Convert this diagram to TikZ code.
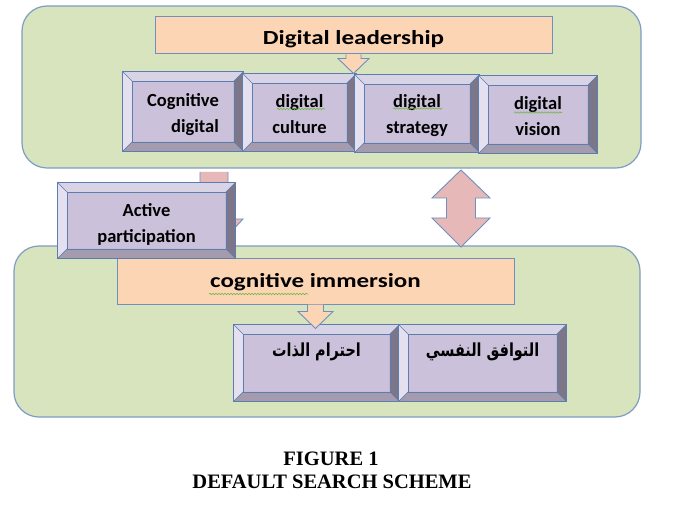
\documentclass[tikz,border=0pt]{standalone}
\usepackage{fontspec}
\usetikzlibrary{calc,decorations.pathmorphing}
\setmainfont{Carlito}
\newfontfamily\headfont[FakeStretch=1.25]{Carlito}
\newfontfamily\capfont{Liberation Serif}
\newfontfamily\arabicfont[Script=Arabic,FakeStretch=0.8]{DejaVu Sans}
\TeXXeTstate=1
\definecolor{grn}{HTML}{D7E4BD}
\definecolor{cbord}{HTML}{7F9DC4}
\definecolor{obord}{HTML}{6E8FBF}
\definecolor{bbord}{HTML}{5B7DB0}
\definecolor{org}{HTML}{FCD5B5}
\definecolor{pnk}{HTML}{E6B9B8}
\definecolor{face}{HTML}{CCC1DA}
\definecolor{bevT}{HTML}{D9D3E6}
\definecolor{bevL}{HTML}{E4E0EF}
\definecolor{bevR}{HTML}{7C7688}
\definecolor{bevB}{HTML}{A59BAE}
\definecolor{spell}{HTML}{6DB33F}
\tikzset{
  container/.style={draw=cbord, line width=1.2pt, fill=grn, rounded corners=25pt, inner sep=0pt},
  headbox/.style={draw=obord, line width=1pt, fill=org, inner sep=0pt,
    font=\headfont\bfseries\fontsize{20}{24}\selectfont},
  bevbox/.style={draw=bbord, line width=0.9pt, fill=face, inner sep=0pt, align=center,
    font=\bfseries\fontsize{18.5}{26}\selectfont},
  arrline/.style={draw=obord, line width=0.9pt, line join=miter},
  captext/.style={font=\capfont\bfseries\fontsize{20.5}{24}\selectfont, inner sep=0pt},
  spellmark/.style={draw=spell, line width=0.6pt, decorate,
    decoration={snake, segment length=3pt, amplitude=0.7pt}}
}
% move the content of a node down by #1 without changing its reported size
\newcommand\lowr[3]{\raisebox{-#1}[\height][\depth]{\begin{tabular}{@{}#2@{}}#3\end{tabular}}}
% bevel drawn over a named box node
\newcommand\mybevel[1]{%
  \fill[bevT] (#1.north west) -- (#1.north east) -- ($(#1.north east)+(-9.5,9.5)$) -- ($(#1.north west)+(9.5,9.5)$) -- cycle;
  \fill[bevL] (#1.north west) -- ($(#1.north west)+(9.5,9.5)$) -- ($(#1.south west)+(9.5,-9.5)$) -- (#1.south west) -- cycle;
  \fill[bevR] (#1.north east) -- (#1.south east) -- ($(#1.south east)+(-9.5,-9.5)$) -- ($(#1.north east)+(-9.5,9.5)$) -- cycle;
  \fill[bevB] (#1.south west) -- ($(#1.south west)+(9.5,-9.5)$) -- ($(#1.south east)+(-9.5,-9.5)$) -- (#1.south east) -- cycle;
  \draw[bbord, line width=0.6pt] ($(#1.north west)+(9.5,9.5)$) rectangle ($(#1.south east)+(-9.5,-9.5)$);
  \draw[bbord, line width=0.6pt] (#1.north west) -- ($(#1.north west)+(9.5,9.5)$)
     (#1.north east) -- ($(#1.north east)+(-9.5,9.5)$)
     (#1.south east) -- ($(#1.south east)+(-9.5,-9.5)$)
     (#1.south west) -- ($(#1.south west)+(9.5,-9.5)$);
  \draw[bbord, line width=0.9pt] (#1.north west) rectangle (#1.south east);
}
% block arrow pointing down: #1 fill, #2 top coordinate, #3 shaft half width, #4 head half width, #5 shaft length, #6 head length
\newcommand\dnarrow[6]{%
  \fill[#1] ($(#2)+(-#3,0)$) -- ($(#2)+(-#3,#5)$) -- ($(#2)+(-#4,#5)$) -- ($(#2)+(0,#5+#6)$)
     -- ($(#2)+(#4,#5)$) -- ($(#2)+(#3,#5)$) -- ($(#2)+(#3,0)$) -- cycle;
  \draw[arrline] ($(#2)+(-#3,0)$) -- ($(#2)+(-#3,#5)$) -- ($(#2)+(-#4,#5)$) -- ($(#2)+(0,#5+#6)$)
     -- ($(#2)+(#4,#5)$) -- ($(#2)+(#3,#5)$) -- ($(#2)+(#3,0)$);
}
\begin{document}
\begin{tikzpicture}[x=1pt,y=-1pt]
\useasboundingbox[fill=white] (0,0) rectangle (683,513);

% containers
\node[container, minimum width=619pt, minimum height=162pt] (top) at (331.5,87) {};
\node[container, minimum width=626pt, minimum height=171pt] (bot) at (327,331.5) {};

% pink arrow behind "Active participation"
\coordinate (p1) at (214,172);
\dnarrow{pnk}{p1}{14}{29}{47}{31}

% double arrow between the containers
\coordinate (dtop) at (461,170);
\coordinate (dbot) at (461,247);
\filldraw[fill=pnk, arrline] (dtop) -- ($(dtop)+(29,28)$) -- ($(dtop)+(14.5,28)$) -- ($(dbot)+(14.5,-29)$)
  -- ($(dbot)+(29,-29)$) -- (dbot) -- ($(dbot)+(-29,-29)$) -- ($(dbot)+(-14.5,-29)$)
  -- ($(dtop)+(-14.5,28)$) -- ($(dtop)+(-29,28)$) -- cycle;

% headings
\node[headbox, minimum width=397pt, minimum height=37pt] (lead) at (353.5,35.5) {\lowr{4pt}{c}{Digital leadership}};
\node[headbox, minimum width=397pt, minimum height=45pt] (imm) at (315.5,281.5) {\lowr{1.5pt}{c}{cognitive immersion}};
\draw[spellmark] ($(imm.center)+(-106.5,12.5)$) -- ($(imm.center)+(-7.5,12.5)$);

% top row boxes
\node[bevbox, minimum width=120pt, minimum height=79pt] (b1) at (183,111.5) {\lowr{3pt}{r}{Cognitive\\digital}};
\mybevel{b1}
\node[bevbox, minimum width=113pt, minimum height=77pt] (b2) at (299.5,112.5) {\lowr{3pt}{c}{digital\\culture}};
\mybevel{b2}
\node[bevbox, minimum width=124pt, minimum height=77pt] (b3) at (417,113.5) {\lowr{2pt}{c}{digital\\strategy}};
\mybevel{b3}
\node[bevbox, minimum width=118pt, minimum height=77pt] (b4) at (538,114.5) {\lowr{3pt}{c}{digital\\vision}};
\mybevel{b4}
\draw[spellmark] ($(b2.center)+(-22.5,-3.5)$) -- ($(b2.center)+(25.5,-3.5)$);
\draw[spellmark] ($(b3.center)+(-24,-5)$) -- ($(b3.center)+(25,-5)$);
\draw[spellmark] ($(b4.center)+(-24,-2)$) -- ($(b4.center)+(24,-2)$);

% arrow from Digital leadership to the boxes
\coordinate (a1) at (lead.south);
\dnarrow{org}{a1}{7.5}{15.5}{4}{15}

% Active participation
\node[bevbox, minimum width=177pt, minimum height=75pt] (act) at (146.5,220.5) {\lowr{4pt}{c}{Active\\participation}};
\mybevel{act}

% bottom boxes
\node[bevbox, minimum width=165pt, minimum height=76pt] (ba) at (316.5,363)
  {\raisebox{11pt}[\height][\depth]{\arabicfont\bfseries\fontsize{18}{22}\selectfont\beginR احترام الذات\endR}};
\mybevel{ba}
\node[bevbox, minimum width=167pt, minimum height=76pt] (bb) at (482.5,363)
  {\raisebox{11pt}[\height][\depth]{\arabicfont\bfseries\fontsize{18}{22}\selectfont\beginR التوافق النفسي\endR}};
\mybevel{bb}

% arrow from cognitive immersion to the boxes
\coordinate (a2) at (imm.south);
\dnarrow{org}{a2}{8}{17.5}{7}{17}

% caption
\node[captext] (cap1) at (331,459) {FIGURE 1};
\node[captext] (cap2) at (332,482) {DEFAULT SEARCH SCHEME};
\end{tikzpicture}
\end{document}
